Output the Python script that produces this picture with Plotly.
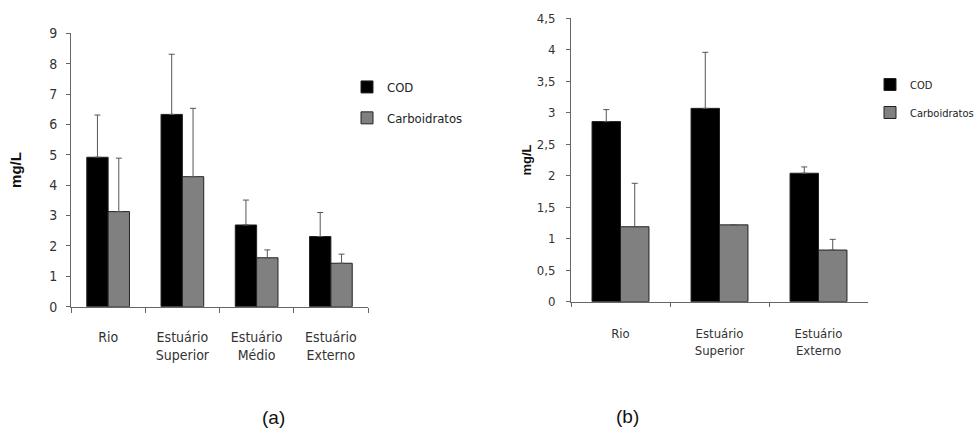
import plotly.graph_objects as go

# ---- data ----
cats_a = ["Rio", "Estuário<br>Superior", "Estuário<br>Médio", "Estuário<br>Externo"]
cod_a = [4.92, 6.33, 2.69, 2.31]
cod_a_err = [1.39, 1.98, 0.82, 0.79]
carb_a = [3.13, 4.28, 1.61, 1.43]
carb_a_err = [1.76, 2.25, 0.26, 0.30]

cats_b = ["Rio", "Estuário<br>Superior", "Estuário<br>Externo"]
cod_b = [2.86, 3.07, 2.04]
cod_b_err = [0.19, 0.89, 0.10]
carb_b = [1.19, 1.22, 0.82]
carb_b_err = [0.69, 0.0, 0.17]

series_names = ["COD", "Carboidratos"]
panel_labels = ["(a)", "(b)"]

W, H = 980, 431
NARROW = "DejaVu Sans Condensed, Liberation Sans Narrow, sans-serif"
COL_COD = "#000000"
COL_CARB = "#808080"


def err(arr):
    return dict(type="data", array=arr, arrayminus=[0] * len(arr), symmetric=False,
                color="#555555", thickness=1, width=3)


fig = go.Figure()
fig.add_trace(go.Bar(x=cats_a, y=cod_a, name=series_names[0], marker=dict(color=COL_COD, line=dict(color="#222", width=1)),
                     error_y=err(cod_a_err), xaxis="x", yaxis="y", legend="legend", legendgroup="a1"))
fig.add_trace(go.Bar(x=cats_a, y=carb_a, name=series_names[1], marker=dict(color=COL_CARB, line=dict(color="#222", width=1)),
                     error_y=err(carb_a_err), xaxis="x", yaxis="y", legend="legend", legendgroup="a2"))
fig.add_trace(go.Bar(x=cats_b, y=cod_b, name=series_names[0], marker=dict(color=COL_COD, line=dict(color="#222", width=1)),
                     error_y=err(cod_b_err), xaxis="x2", yaxis="y2", legend="legend2", legendgroup="b1"))
fig.add_trace(go.Bar(x=cats_b, y=carb_b, name=series_names[1], marker=dict(color=COL_CARB, line=dict(color="#222", width=1)),
                     error_y=err(carb_b_err), xaxis="x2", yaxis="y2", legend="legend2", legendgroup="b2"))


def px_x(p):
    return p / W


def px_y(p):
    return 1 - p / H


axis_common = dict(showline=True, linecolor="#666666", linewidth=1, ticks="outside", automargin=False,
                   tickcolor="#666666", showgrid=False, zeroline=False, fixedrange=True)

fig.update_layout(
    width=W, height=H, autosize=False,
    margin=dict(l=0, r=0, t=0, b=0, autoexpand=False),
    paper_bgcolor="white", plot_bgcolor="white",
    separators=", ",
    bargap=0.425, bargroupgap=0,
    barmode="group",
    xaxis=dict(domain=[px_x(71), px_x(368)], anchor="y", tickson="boundaries", ticklen=5,
               tickfont=dict(family=NARROW, size=14, color="#333"), ticklabelstandoff=17, **axis_common),
    yaxis=dict(domain=[px_y(306.7), px_y(33.3)], anchor="x", range=[0, 9], dtick=1, ticklen=4,
               tickfont=dict(family=NARROW, size=14, color="#333"), ticklabelstandoff=6,
               title=dict(text="<b>mg/L</b>", font=dict(family="Liberation Sans, Arial, sans-serif", size=15, color="#111"), standoff=23),
               **axis_common),
    xaxis2=dict(domain=[px_x(571), px_x(868)], anchor="y2", tickson="boundaries", ticklen=4,
                tickfont=dict(family=NARROW, size=13, color="#333"), ticklabelstandoff=20, **axis_common),
    yaxis2=dict(domain=[px_y(301.7), px_y(18.3)], anchor="x2", range=[0, 4.5], dtick=0.5, ticklen=4,
                tickfont=dict(family=NARROW, size=13, color="#333"), ticklabelstandoff=8,
                title=dict(text="<b>mg/L</b>", font=dict(family="Liberation Sans, Arial, sans-serif", size=13, color="#111"), standoff=2),
                **axis_common),
    legend=dict(x=px_x(347), y=px_y(72), xanchor="left", yanchor="top", bgcolor="rgba(0,0,0,0)",
                font=dict(family=NARROW, size=13, color="#222"), traceorder="grouped", tracegroupgap=11),
    legend2=dict(x=px_x(870), y=px_y(70), xanchor="left", yanchor="top", bgcolor="rgba(0,0,0,0)",
                 font=dict(family=NARROW, size=11, color="#222"), traceorder="grouped", tracegroupgap=9),
    annotations=[
        dict(text=panel_labels[0], x=px_x(273), y=px_y(417), xref="paper", yref="paper", showarrow=False,
             xanchor="center", yanchor="middle",
             font=dict(family="Liberation Sans, Arial, sans-serif", size=19, color="#111")),
        dict(text=panel_labels[1], x=px_x(627), y=px_y(416), xref="paper", yref="paper", showarrow=False,
             xanchor="center", yanchor="middle",
             font=dict(family="Liberation Sans, Arial, sans-serif", size=19, color="#111")),
    ],
)

fig.write_html("out.html", config={"displayModeBar": False},
               post_script="document.body.style.margin='0';document.body.style.overflow='hidden';")
